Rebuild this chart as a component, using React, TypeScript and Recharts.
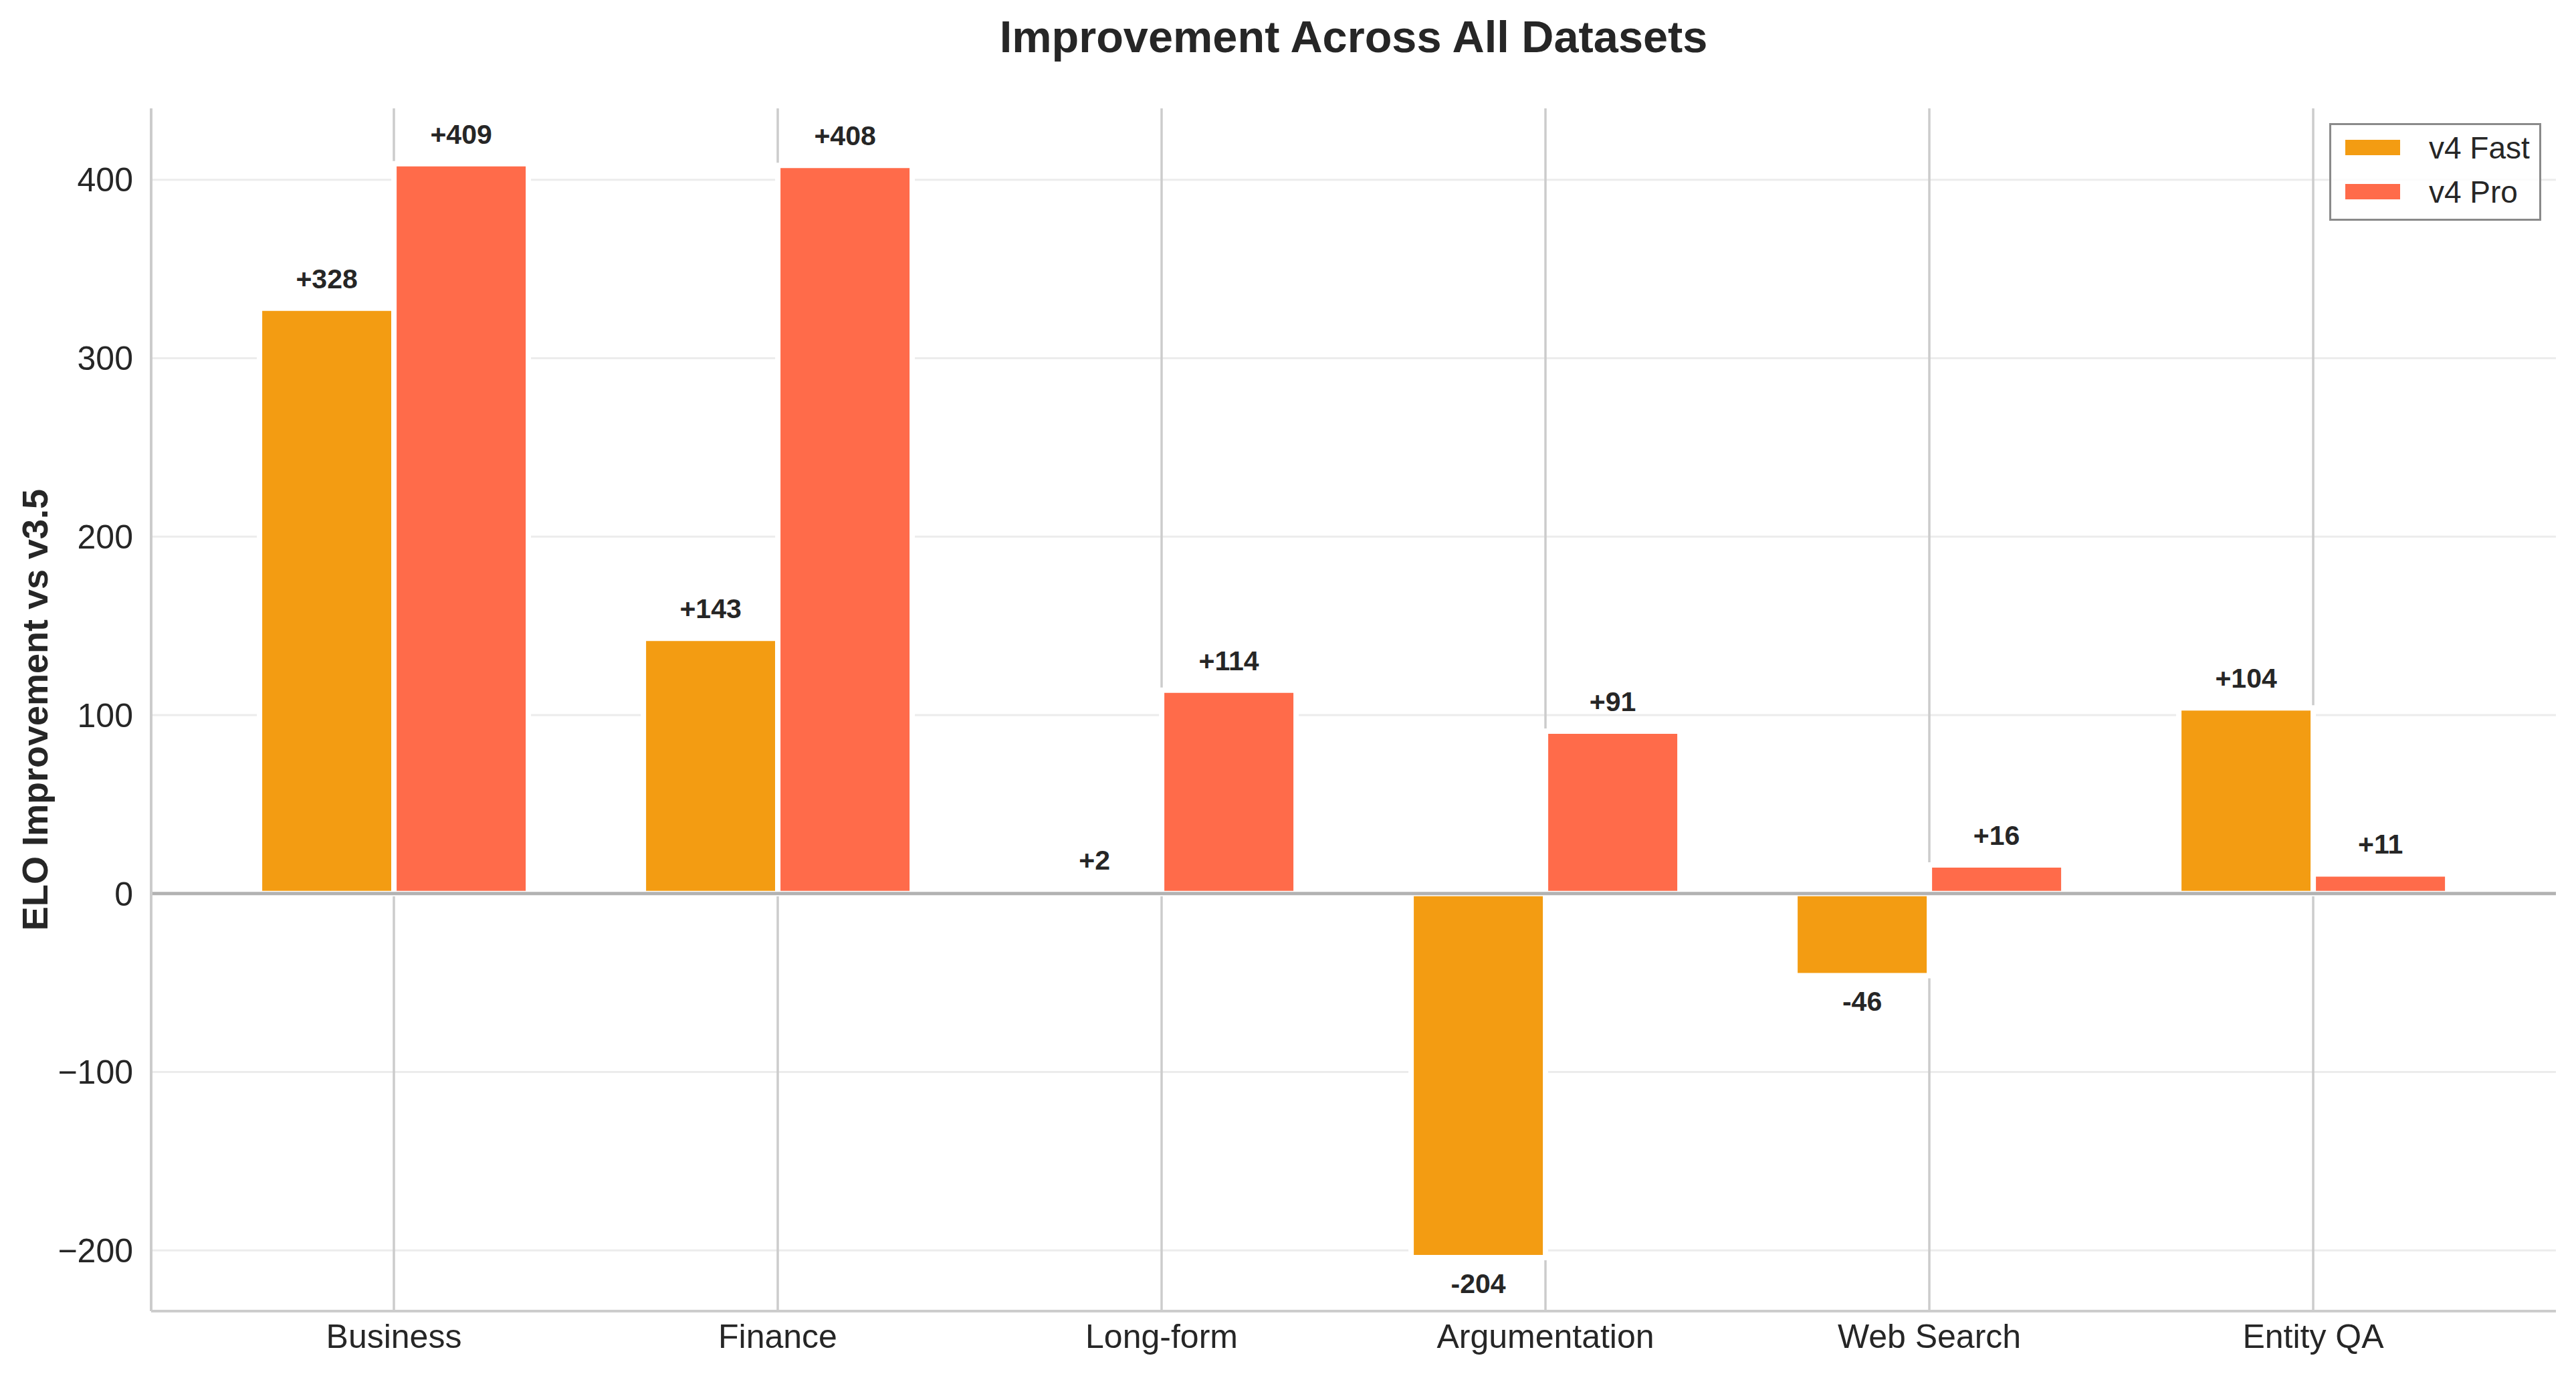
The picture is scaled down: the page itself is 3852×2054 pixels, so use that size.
import {
  BarChart,
  Bar,
  XAxis,
  YAxis,
  CartesianGrid,
  ReferenceLine,
  LabelList,
} from "recharts";

const datasets = ["Business", "Finance", "Long-form", "Argumentation", "Web Search", "Entity QA"];
const fastGain = [328, 143, 2, -204, -46, 104];
const proGain = [409, 408, 114, 91, 16, 11];
const yTicks = [-200, -100, 0, 100, 200, 300, 400];

const FAST = "#F39C12";
const PRO = "#FF6B4A";
const INK = "#262626";
const FONT = '"Liberation Sans", Arial, Helvetica, sans-serif';

const data = datasets.map((name, i) => ({ name, fast: fastGain[i], pro: proGain[i] }));

const legendItems = [
  { label: "v4 Fast", color: FAST },
  { label: "v4 Pro", color: PRO },
];

function ValueLabel(props: any) {
  const { x, y, width, height, value } = props;
  if (value == null) return null;
  const v = Number(value);
  const top = Math.min(y, y + height);
  const bottom = Math.max(y, y + height);
  const ty = v >= 0 ? top - 30 : bottom + 53;
  return (
    <text
      x={x + width / 2}
      y={ty}
      textAnchor="middle"
      fontFamily={FONT}
      fontWeight="bold"
      fontSize={41}
      fill={INK}
    >
      {v >= 0 ? `+${v}` : `${v}`}
    </text>
  );
}

function YLabel(props: any) {
  const vb = props.viewBox;
  const cy = vb.y + vb.height / 2;
  return (
    <text
      x={52}
      y={cy}
      transform={`rotate(-90, 52, ${cy})`}
      textAnchor="middle"
      dominantBaseline="central"
      fontFamily={FONT}
      fontWeight="bold"
      fontSize={54}
      fill={INK}
    >
      ELO Improvement vs v3.5
    </text>
  );
}

function LegendBox() {
  return (
    <div
      style={{
        position: "absolute",
        left: 3483,
        top: 184,
        boxSizing: "border-box",
        width: 317,
        height: 146,
        border: "3px solid #8a8a8a",
        background: "rgba(255,255,255,0.85)",
        fontFamily: FONT,
      }}
    >
      {legendItems.map((it, i) => (
        <div key={it.label}>
          <div
            style={{
              position: "absolute",
              left: 21,
              top: 22 + i * 66,
              width: 82,
              height: 23,
              background: it.color,
            }}
          />
          <div
            style={{
              position: "absolute",
              left: 146,
              top: 11 + i * 66,
              height: 46,
              lineHeight: "46px",
              fontSize: 46,
              color: INK,
              whiteSpace: "nowrap",
            }}
          >
            {it.label}
          </div>
        </div>
      ))}
    </div>
  );
}

export default function App() {
  return (
    <div
      style={{
        position: "absolute",
        left: 0,
        top: 0,
        width: 3852,
        height: 2054,
        background: "#fff",
        overflow: "hidden",
      }}
    >
      <div
        style={{
          position: "absolute",
          left: 1024,
          top: 22,
          width: 2000,
          textAlign: "center",
          fontFamily: FONT,
          fontWeight: "bold",
          fontSize: 66.7,
          lineHeight: 1,
          color: INK,
        }}
      >
        Improvement Across All Datasets
      </div>
      <BarChart
        width={3852}
        height={2054}
        data={data}
        margin={{ top: 162, right: 30, left: 0, bottom: 0 }}
        barCategoryGap="15%"
        barGap={0}
      >
        {/* syncWithTicks: lines only at ticks, none on the plot edges */}
        <CartesianGrid
          horizontal={true}
          vertical={false}
          syncWithTicks
          stroke="#ececec"
          strokeWidth={3}
        />
        <CartesianGrid
          horizontal={false}
          vertical={true}
          syncWithTicks
          stroke="#cccccc"
          strokeWidth={3.5}
        />
        <XAxis
          dataKey="name"
          height={94}
          interval={0}
          padding={{ left: 76, right: 76 }}
          tickLine={false}
          tickSize={0}
          tickMargin={19}
          axisLine={{ stroke: "#cccccc", strokeWidth: 4 }}
          tick={{ fontSize: 50, fill: INK, fontFamily: FONT }}
        />
        <YAxis
          type="number"
          width={226}
          domain={[-234, 440]}
          ticks={yTicks}
          allowDataOverflow
          tickLine={false}
          tickSize={0}
          tickMargin={27}
          axisLine={{ stroke: "#cccccc", strokeWidth: 4 }}
          tick={{ fontSize: 50, fill: INK, fontFamily: FONT }}
          tickFormatter={(v: number) => (v < 0 ? `\u2212${-v}` : `${v}`)}
          label={YLabel}
        />
        <Bar dataKey="fast" name="v4 Fast" fill={FAST} stroke="#fff" strokeWidth={8} isAnimationActive={false}>
          <LabelList dataKey="fast" content={ValueLabel} />
        </Bar>
        <Bar dataKey="pro" name="v4 Pro" fill={PRO} stroke="#fff" strokeWidth={8} isAnimationActive={false}>
          <LabelList dataKey="pro" content={ValueLabel} />
        </Bar>
        <ReferenceLine y={0} stroke="#b2b2b2" strokeWidth={5} />
      </BarChart>
      <LegendBox />
    </div>
  );
}
